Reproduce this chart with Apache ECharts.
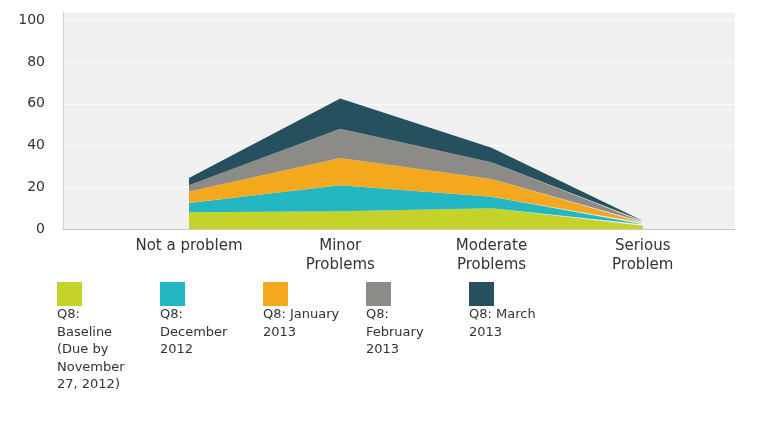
<!DOCTYPE html>
<html>
<head>
<meta charset="utf-8">
<script src="https://cdn.jsdelivr.net/npm/echarts@6/dist/echarts.min.js"></script>
<style>
  html, body { margin: 0; padding: 0; background: #ffffff; }
  #chart { width: 757px; height: 426px; }
</style>
</head>
<body>
<div id="chart"></div>
<script>
// ---- data ----
var categories = ['Not a problem', 'Minor\nProblems', 'Moderate\nProblems', 'Serious\nProblem'];
var seriesNames = [
  'Q8: Baseline (Due by November 27, 2012)',
  'Q8: December 2012',
  'Q8: January 2013',
  'Q8: February 2013',
  'Q8: March 2013'
];
var legendLines = [
  ['Q8:', 'Baseline', '(Due by', 'November', '27, 2012)'],
  ['Q8:', 'December', '2012'],
  ['Q8: January', '2013'],
  ['Q8:', 'February', '2013'],
  ['Q8: March', '2013']
];
var baseline = [8, 8.5, 10, 1.5];
var december = [4.5, 12.5, 5.5, 0.8];
var january  = [5.5, 13, 8.5, 0.7];
var february = [3, 14, 8, 0.5];
var march    = [3.5, 14.5, 7, 0.5];
var yTicks = [0, 20, 40, 60, 80, 100];

// ---- styling ----
var seriesValues = [baseline, december, january, february, march];
var colors = ['#c4d22a', '#22b7c3', '#f4a81d', '#8c8b87', '#26505e'];
var FONT = 'DejaVu Sans';

var chart = echarts.init(document.getElementById('chart'), null, { renderer: 'canvas' });

var series = seriesValues.map(function (vals, i) {
  return {
    name: seriesNames[i],
    type: 'line',
    stack: 'total',
    symbol: 'none',
    lineStyle: { width: 0 },
    itemStyle: { color: colors[i] },
    areaStyle: { color: colors[i], opacity: 1 },
    // value first so that the stack is applied to the value dimension
    encode: { x: 1, y: 0 },
    data: vals.map(function (v, k) { return [v, k]; }),
    animation: false
  };
});

var legends = seriesNames.map(function (name, i) {
  return {
    data: [name],
    left: 52 + i * 103,
    top: 282,
    padding: 0,
    icon: 'none',
    itemWidth: 0,
    itemHeight: 0,
    selectedMode: false,
    formatter: function () {
      return '{b|}\n' + legendLines[i].map(function (l) { return '{t|' + l + '}'; }).join('\n');
    },
    textStyle: {
      rich: {
        b: { width: 25, height: 24, backgroundColor: colors[i] },
        t: { fontFamily: FONT, fontSize: 13, lineHeight: 17.5, color: '#333333' }
      }
    }
  };
});

chart.setOption({
  backgroundColor: '#ffffff',
  animation: false,
  grid: {
    left: 63, right: 22, top: 12, bottom: 197,
    show: true, backgroundColor: '#f0f0f0', borderWidth: 0
  },
  legend: legends,
  xAxis: {
    type: 'value',
    min: -0.833,
    max: 3.61,
    axisLine: { show: true, onZero: false, lineStyle: { color: '#c8c8c8', width: 1 } },
    axisTick: { show: false },
    splitLine: { show: false },
    axisLabel: {
      customValues: [0, 1, 2, 3],
      formatter: function (v) { return categories[Math.round(v)]; },
      fontFamily: FONT, fontSize: 15, lineHeight: 19, color: '#333333', margin: 8
    }
  },
  yAxis: {
    type: 'value',
    min: 0,
    max: 104,
    interval: 20,
    axisLine: { show: true, onZero: false, lineStyle: { color: '#d0d0d0', width: 1 } },
    axisTick: { show: false },
    splitLine: { show: true, lineStyle: { color: '#ffffff', width: 1, opacity: 0.7 } },
    axisLabel: {
      customValues: yTicks,
      fontFamily: FONT, fontSize: 14, color: '#333333', margin: 18
    }
  },
  series: series
});
</script>
</body>
</html>
